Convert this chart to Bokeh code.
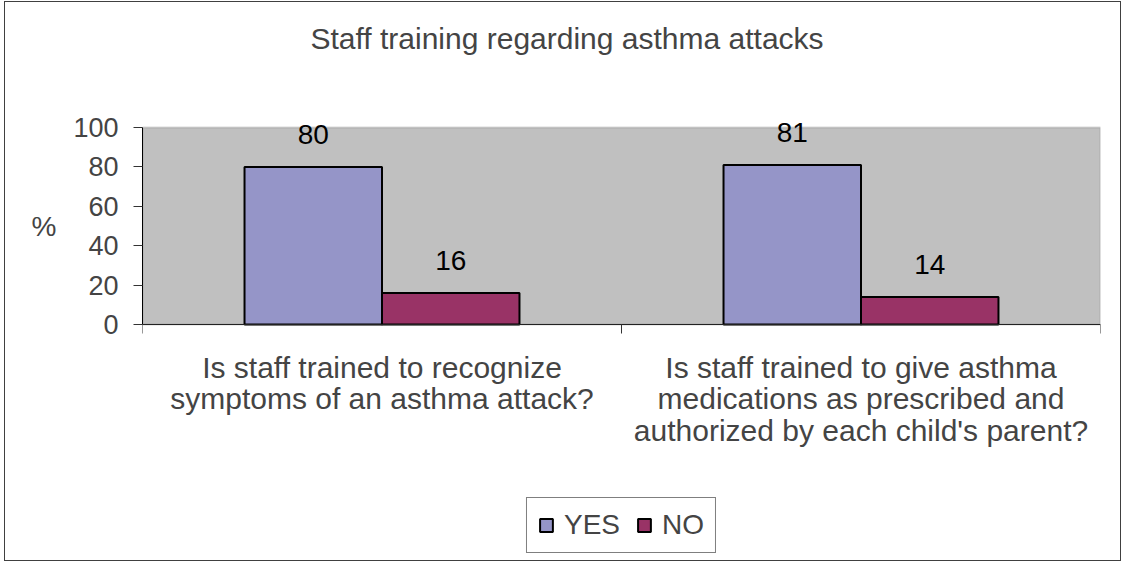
from bokeh.plotting import figure
from bokeh.models import (ColumnDataSource, Range1d, LinearAxis, FixedTicker, LabelSet,
                          Legend, LegendItem, BoxAnnotation)
from bokeh.core.properties import value
from bokeh.embed import file_html
from bokeh.resources import INLINE

# ---- data ----
title_text = "Staff training regarding asthma attacks"
categories = ["Is staff trained to recognize\nsymptoms of an asthma attack?",
              "Is staff trained to give asthma\nmedications as prescribed and\nauthorized by each child's parent?"]
series_names = ["YES", "NO"]
yes_values = [80, 81]
no_values = [16, 14]
y_ticks = [0, 20, 40, 60, 80, 100]
y_label = "%"

FONT = "Liberation Sans"
YES_COLOR = "#9595C8"
NO_COLOR = "#993366"

n = len(categories)
bw = 0.287
off = 0.1435
centers = [i + 0.5 for i in range(n)]

source = ColumnDataSource(dict(
    x_yes=[c - off for c in centers], x_no=[c + off for c in centers],
    yes=yes_values, no=no_values,
    yes_txt=[str(v) for v in yes_values], no_txt=[str(v) for v in no_values]))

# the frame also holds the category labels and the legend (below the 0 line)
p = figure(width=1115, height=558,
           x_range=Range1d(0, n), y_range=Range1d(-118.27, 127.92),
           output_backend="svg", toolbar_location=None,
           x_axis_location=None, y_axis_location=None,
           min_border_left=137, min_border_top=70, min_border_right=20, min_border_bottom=3)

p.background_fill_color = "white"
p.border_fill_color = "white"
p.outline_line_color = None
p.xgrid.visible = False
p.ygrid.visible = False
p.styles = {"margin-left": "5px", "margin-top": "2px", "outline": "1px solid #404040"}

# grey plot area (0..100)
p.add_layout(BoxAnnotation(bottom=y_ticks[0], top=y_ticks[-1], fill_color="#C0C0C0", fill_alpha=1,
                           line_color="#808080", line_width=2, level="underlay"))

# title
p.title.text = title_text
p.title.text_font = FONT
p.title.text_font_size = "30px"
p.title.text_font_style = "normal"
p.title.align = "left"
p.title.offset = 168
p.title.standoff = 35

# bars
yes_r = p.vbar(x='x_yes', top='yes', width=bw, source=source,
               fill_color=YES_COLOR, line_color="black", line_width=2)
no_r = p.vbar(x='x_no', top='no', width=bw, source=source,
              fill_color=NO_COLOR, line_color="black", line_width=2)

# value labels
for xcol, col, txt in (("x_yes", "yes", "yes_txt"), ("x_no", "no", "no_txt")):
    ls = LabelSet(x=xcol, y=col, text=txt, source=source,
                  text_align="center", text_baseline="alphabetic", y_offset=23,
                  text_font=value(FONT), text_font_size=value("28px"), text_color="black")
    p.add_layout(ls)

# y axis
yaxis = LinearAxis(ticker=FixedTicker(ticks=y_ticks), bounds=(y_ticks[0], y_ticks[-1]),
                   major_label_text_font=FONT, major_label_text_font_size="27px",
                   major_label_standoff=15, major_tick_out=9, major_tick_in=0,
                   minor_tick_line_color=None, axis_line_color="black",
                   major_tick_line_color="#333333")
p.add_layout(yaxis, "left")

# "%" unit label, horizontal, centred on the 0..100 axis
mid = (y_ticks[0] + y_ticks[-1]) / 2
unit_axis = LinearAxis(ticker=FixedTicker(ticks=[mid]), major_label_overrides={mid: y_label},
                       major_label_text_font=FONT, major_label_text_font_size="28px",
                       major_label_standoff=14, major_tick_line_color=None,
                       major_tick_out=0, major_tick_in=0, minor_tick_line_color=None,
                       axis_line_color=None)
p.add_layout(unit_axis, "left")

# category-boundary ticks on the 0 line
edges = list(range(n + 1))
edge_axis = LinearAxis(ticker=FixedTicker(ticks=edges), fixed_location=0,
                       major_label_overrides={e: "" for e in edges},
                       major_label_text_font_size="1px", major_label_standoff=0,
                       major_tick_out=9, major_tick_in=0, minor_tick_line_color=None,
                       axis_line_color="#222222", axis_line_width=1,
                       major_tick_line_color="#333333")
p.add_layout(edge_axis, "below")

# category labels
cat_axis = LinearAxis(ticker=FixedTicker(ticks=centers), fixed_location=0,
                      major_label_overrides={c: lab for c, lab in zip(centers, categories)},
                      major_tick_line_color=None, major_tick_out=0, major_tick_in=0,
                      minor_tick_line_color=None,
                      axis_line_color=None, major_label_standoff=26,
                      major_label_text_font=FONT, major_label_text_font_size="30px",
                      major_label_text_line_height=0.965,
                      major_label_orientation="horizontal")
p.add_layout(cat_axis, "below")

legend = Legend(items=[LegendItem(label=series_names[0], renderers=[yes_r]),
                       LegendItem(label=series_names[1], renderers=[no_r])],
                orientation="horizontal", location="bottom_center",
                label_text_font=FONT, label_text_font_size="28px",
                glyph_width=16, glyph_height=16, label_standoff=10, spacing=16,
                padding=11, margin=4, border_line_color="black", border_line_width=1,
                background_fill_color="white", background_fill_alpha=1)
p.add_layout(legend, "center")

open("out.html", "w").write(file_html(p, INLINE))
